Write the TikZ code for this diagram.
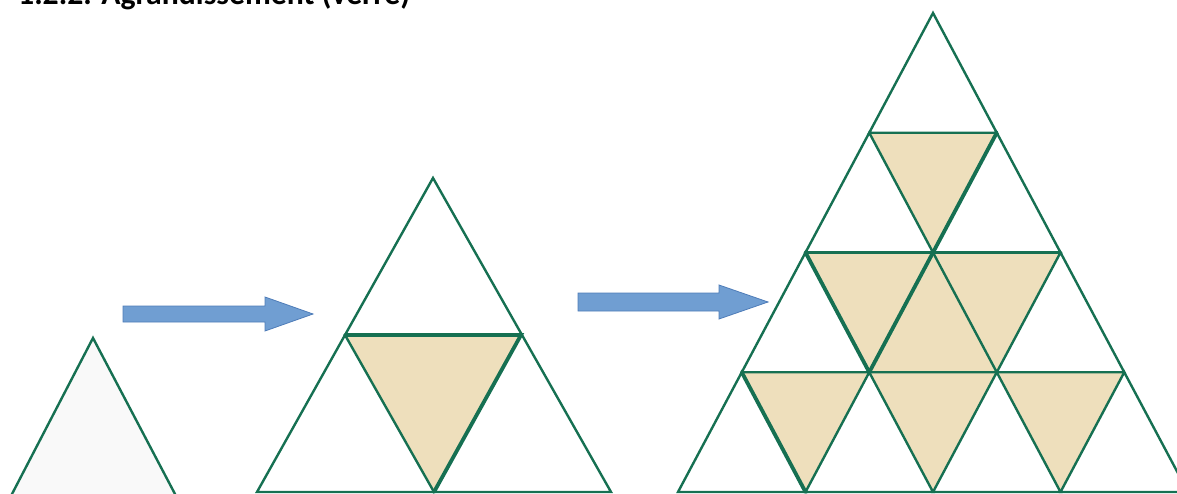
\documentclass[tikz,border=0pt]{standalone}
\usepackage{fontspec}
\setmainfont{Carlito}
\definecolor{tgreen}{RGB}{22,112,82}
\definecolor{tan}{RGB}{238,223,188}
\definecolor{abl}{RGB}{112,158,210}
\definecolor{abd}{RGB}{78,124,184}
\definecolor{pale}{RGB}{249,249,249}
\tikzset{
  edge/.style={draw=tgreen,line width=2.4pt,line join=miter},
  thick edge/.style={draw=tgreen,line width=3.8pt,line cap=round},
  tile/.style={fill=tan},
  blockarrow/.style={fill=abl,draw=abd,line width=0.8pt,line join=miter},
}
\begin{document}
\begin{tikzpicture}[x=1pt,y=-1pt]
\useasboundingbox (0,0) rectangle (1177,494);
\clip (0,0) rectangle (1177,494);
% title
\node[anchor=base west,inner sep=0pt,font=\bfseries] (title) at (18,5)
  {\resizebox{392pt}{!}{1.2.2. Agrandissement (verre)}};
% small triangle
\coordinate (A1) at (93,338);
\coordinate (L1) at ({93-81/156*165},503);
\coordinate (R1) at ({93+82/156*165},503);
\filldraw[edge,fill=pale] (A1) -- (L1) -- (R1) -- cycle;
% arrows
\filldraw[blockarrow] (123,306) -- (265,306) -- (265,297) -- (313,314) -- (265,331) -- (265,322) -- (123,322) -- cycle;
\filldraw[blockarrow] (578,293) -- (719,293) -- (719,285) -- (768,302) -- (719,319) -- (719,311) -- (578,311) -- cycle;
% medium triangle
\coordinate (A2) at (433,178);
\coordinate (L2) at (257,492);
\coordinate (R2) at (611,492);
\coordinate (ML2) at (345,335);
\coordinate (MR2) at (521,335);
\coordinate (MB2) at (434,492);
\fill[tile] (ML2) -- (MR2) -- (MB2) -- cycle;
\draw[edge] (A2) -- (L2) -- (R2) -- cycle;
\draw[edge] (ML2) -- (MB2);
\draw[thick edge] (ML2) -- (MR2) -- (MB2);
% large triangle grid
\foreach \k in {0,...,4}{
  \foreach \i in {0,...,\k}{
    \coordinate (P-\k-\i) at ({933-63.75*\k+127.5*\i},{13+119.75*\k});
  }
}
% tiles
\fill[tile] (P-1-0) -- (P-1-1) -- (P-2-1) -- cycle;
\fill[tile] (P-2-0) -- (P-2-1) -- (P-3-1) -- cycle;
\fill[tile] (P-2-1) -- (P-2-2) -- (P-3-2) -- cycle;
\fill[tile] (P-2-1) -- (P-3-1) -- (P-3-2) -- cycle;
\fill[tile] (P-3-0) -- (P-3-1) -- (P-4-1) -- cycle;
\fill[tile] (P-3-1) -- (P-3-2) -- (P-4-2) -- cycle;
\fill[tile] (P-3-2) -- (P-3-3) -- (P-4-3) -- cycle;
% grid edges
\foreach \k/\n in {0/1,1/2,2/3,3/4}{
  \foreach \i in {0,...,\k}{
    \pgfmathtruncatemacro{\j}{\i+1}
    \draw[edge] (P-\k-\i) -- (P-\n-\i) -- (P-\n-\j) -- cycle;
  }
}
% emphasised edges
\draw[thick edge] (P-1-1) -- (P-2-1);
\draw[thick edge] (P-2-0) -- (P-3-1);
\draw[thick edge] (P-2-1) -- (P-3-1);
\draw[thick edge] (P-3-0) -- (P-4-1);
\draw[thick edge] (P-2-0) -- (P-2-2);
\end{tikzpicture}
\end{document}
